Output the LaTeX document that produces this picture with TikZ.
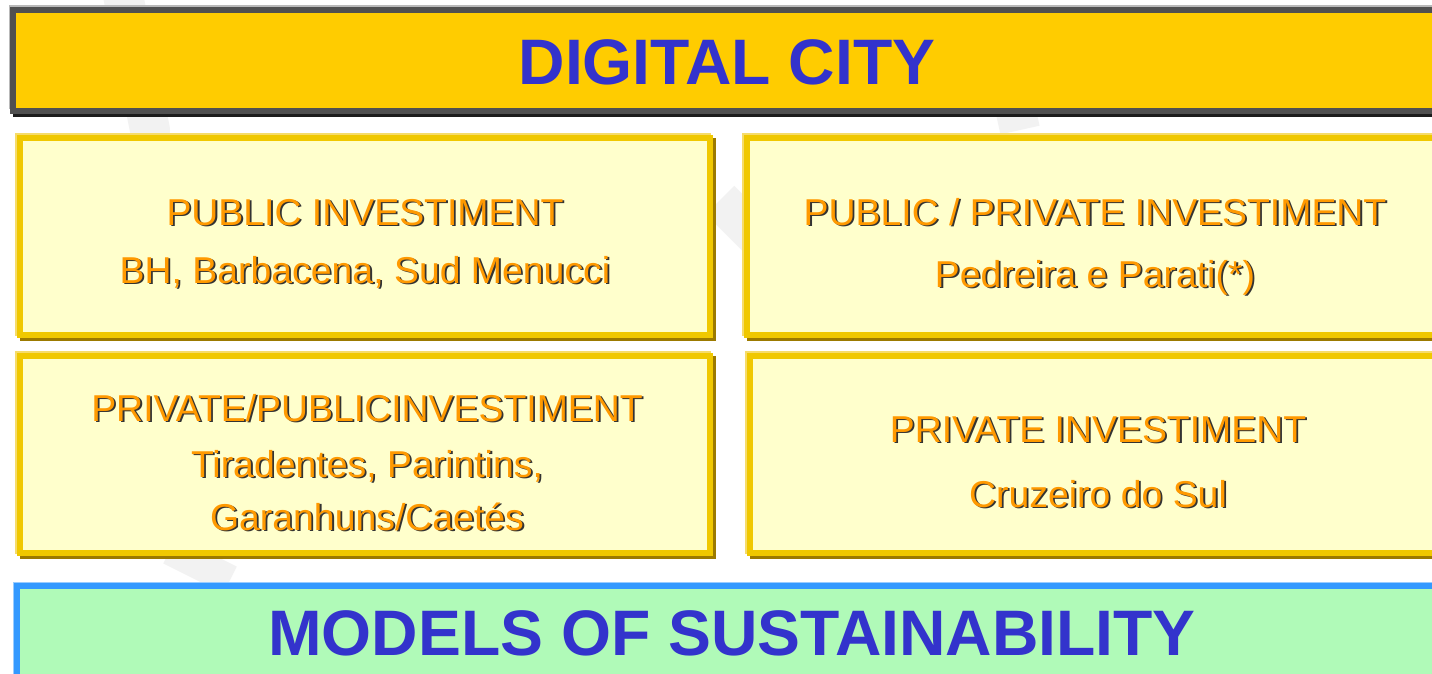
\documentclass[tikz,border=0pt]{standalone}
\usepackage{fontspec}
\setmainfont{Liberation Sans}
\definecolor{bannerfill}{HTML}{FFCC00}
\definecolor{bannerline}{HTML}{505050}
\definecolor{boxfill}{HTML}{FFFFCC}
\definecolor{boxline}{HTML}{F0C800}
\definecolor{boxshadow}{HTML}{9C7A00}
\definecolor{boxlight}{HTML}{F6DC6A}
\definecolor{greenfill}{HTML}{B0FAB8}
\definecolor{blueline}{HTML}{3399FF}
\definecolor{bluelight}{HTML}{99CCFF}
\definecolor{titleblue}{HTML}{3333CC}
\definecolor{orangetxt}{HTML}{FF9900}
\definecolor{wmark}{HTML}{F2F2F2}
\tikzset{
  boxrect/.style={draw=boxline, line width=6pt, fill=boxfill},
  boxshad/.style={draw=boxshadow, line width=6pt},
  boxhl/.style={draw=boxlight, line width=6pt},
  subtxt/.style={anchor=base, text=orangetxt, inner sep=0pt, font=\fontsize{37.4}{41}\selectfont},
  subshad/.style={anchor=base, text=black!80, inner sep=0pt, font=\fontsize{37.4}{41}\selectfont},
  titletxt/.style={anchor=base, text=titleblue, inner sep=0pt, font=\fontsize{64.3}{70}\selectfont\bfseries},
}
\newcommand{\shtext}[3]{% name, position, text
  \node[subshad] (#1s) at ($(#2)+(1.8,1.8)$) {#3};
  \node[subtxt] (#1) at (#2) {#3};
}
\usetikzlibrary{calc}
\begin{document}
\begin{tikzpicture}[x=1pt,y=-1pt]
\useasboundingbox (0,0) rectangle (1432,674);
\fill[white] (0,0) rectangle (1432,674);
% faint watermark
\draw[wmark, line width=40pt, line cap=round] (120,-20) -- (150,130);
\draw[wmark, line width=40pt] (720,200) -- (760,240);
\draw[wmark, line width=30pt] (170,550) -- (230,580);
\draw[wmark, line width=40pt] (1000,40) -- (1020,130);
% top banner
\draw[bannerline!40, line width=3pt] (10,7) rectangle (1450,108);
\draw[bannerline!130, line width=6pt] (16,13) rectangle (1450,114);
\draw[bannerline, line width=6pt, fill=bannerfill] (13,10) rectangle (1450,111);
\node[titletxt] (title) at (727,85) {DIGITAL CITY};
% boxes
\draw[boxhl] (18,136) rectangle (708,333);
\draw[boxshad] (23,141) rectangle (713,338);
\draw[boxrect] (20,138) rectangle (710,335);
\draw[boxhl] (745,136) rectangle (1450,333);
\draw[boxshad] (750,141) rectangle (1450,338);
\draw[boxrect] (747,138) rectangle (1450,335);
\draw[boxhl] (18,354) rectangle (708,551);
\draw[boxshad] (23,359) rectangle (713,556);
\draw[boxrect] (20,356) rectangle (710,553);
\draw[boxhl] (748,354) rectangle (1450,551);
\draw[boxshad] (753,359) rectangle (1450,556);
\draw[boxrect] (750,356) rectangle (1450,553);
% texts
\shtext{t1a}{365,225}{PUBLIC INVESTIMENT}
\shtext{t1b}{365,283}{BH, Barbacena, Sud Menucci}
\shtext{t2a}{1095,225}{PUBLIC / PRIVATE INVESTIMENT}
\shtext{t2b}{1095,287}{Pedreira e Parati(*)}
\shtext{t3a}{367,421}{PRIVATE/PUBLICINVESTIMENT}
\shtext{t3b}{367,477}{Tiradentes, Parintins,}
\shtext{t3c}{367,530}{Garanhuns/Caetés}
\shtext{t4a}{1098,442}{PRIVATE INVESTIMENT}
\shtext{t4b}{1098,507}{Cruzeiro do Sul}
% bottom banner
\draw[bluelight, line width=4pt] (15,584) rectangle (1450,700);
\draw[blueline, line width=6pt, fill=greenfill] (17,586) rectangle (1450,700);
\node[titletxt] (models) at (732,655) {MODELS OF SUSTAINABILITY};
\end{tikzpicture}
\end{document}
